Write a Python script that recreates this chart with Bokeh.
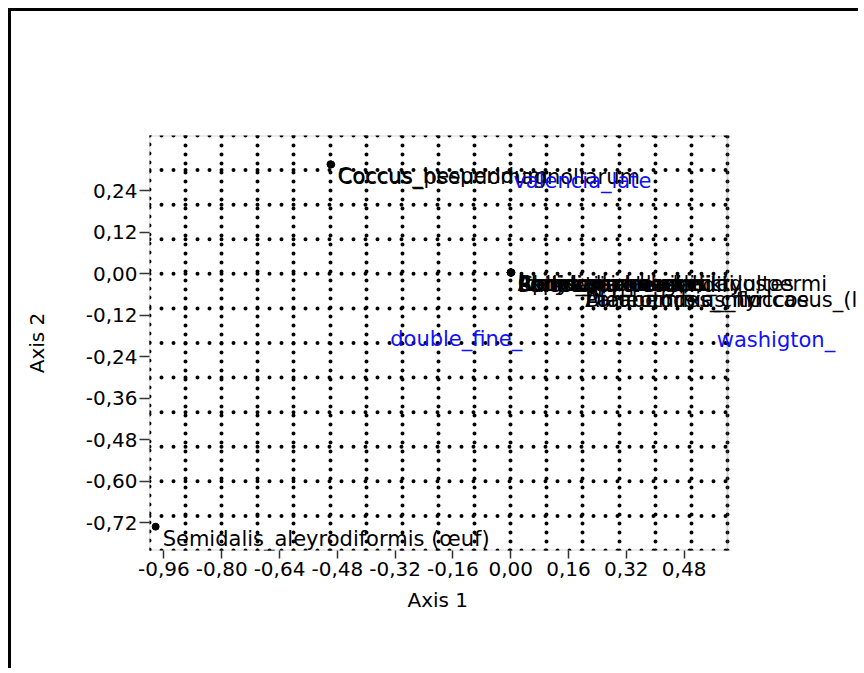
from bokeh.plotting import figure
from bokeh.models import ColumnDataSource, Label, FixedTicker, Span, BoxAnnotation, Title
from bokeh.embed import file_html
from bokeh.resources import INLINE

# ---- data ----
row_names = [
    "Coccus_hesperidum", "Coccus_pseudomagnoliarum",
    "Aphis_spiraecola", "Aonidiella_aurantii", "Planococcus_citri",
    "Parlatoria_pergandii", "Lepidosaphes_beckii", "Icerya_purchasi",
    "Saissetia_oleae", "Chrysomphalus_dictyospermi", "Rodolia_cardinalis_adultes",
    "Dialeurodes_citri", "Parabemisia_myricae", "Aleurothrixus_floccosus_(larve)",
    "Semidalis_aleyrodiformis (œuf)",
]
row_x = [-0.499, -0.497,
         0.0, 0.0, 0.001, 0.0, 0.002, 0.0, 0.001, 0.0, 0.0,
         0.186, 0.188, 0.186,
         -0.983]
row_y = [0.317, 0.316,
         0.004, 0.004, 0.004, 0.003, 0.004, 0.004, 0.003, 0.004, 0.004,
         -0.040, -0.040, -0.041,
         -0.731]

col_names = ["valencia_late", "double_fine_", "washigton_"]
col_x = [-0.012, -0.353, 0.551]
col_y = [0.302, -0.153, -0.156]

x_ticks = [-0.96, -0.80, -0.64, -0.48, -0.32, -0.16, 0.00, 0.16, 0.32, 0.48]
x_tick_labels = ["-0,96", "-0,80", "-0,64", "-0,48", "-0,32", "-0,16", "0,00", "0,16", "0,32", "0,48"]
y_ticks = [0.24, 0.12, 0.00, -0.12, -0.24, -0.36, -0.48, -0.60, -0.72]
y_tick_labels = ["0,24", "0,12", "0,00", "-0,12", "-0,24", "-0,36", "-0,48", "-0,60", "-0,72"]

grid_x = [-1.0, -0.9, -0.8, -0.7, -0.6, -0.5, -0.4, -0.3, -0.2, -0.1, 0.0, 0.1, 0.2, 0.3, 0.4, 0.5, 0.6]
grid_y = [-0.8, -0.7, -0.6, -0.5, -0.4, -0.3, -0.2, -0.1, 0.0, 0.1, 0.2, 0.3, 0.4]

FONT = "DejaVu Sans"

# plotting box spans grid_x[0]..grid_x[-1]; the canvas continues to the right
# (empty) so that long point labels are not cut at the box edge
X_VIEW_END = 0.971

p = figure(width=850, height=660, x_range=(grid_x[0], X_VIEW_END), y_range=(grid_y[0], grid_y[-1]),
           output_backend="svg", toolbar_location=None,
           min_border_left=138, min_border_right=0, min_border_top=124, min_border_bottom=121)
p.margin = (8, 0, 0, 8)
p.styles = {"border-top": "3px solid black", "border-left": "3px solid black"}

p.background_fill_color = "white"
p.border_fill_color = "white"
p.outline_line_color = None

# dotted grid: vertical lines via the grid, horizontal via segments limited to the box
p.xgrid.ticker = FixedTicker(ticks=grid_x)
p.xgrid.grid_line_color = "black"
p.xgrid.grid_line_width = 4
p.xgrid.grid_line_dash = "0 9"
p.xgrid.grid_line_cap = "round"
p.ygrid.grid_line_color = None

p.add_layout(Span(location=grid_x[0], dimension="height", line_color="black", line_width=4,
                  line_dash="0 9", line_cap="round"))

hsrc = ColumnDataSource(dict(x0=[grid_x[0]] * len(grid_y), x1=[grid_x[-1]] * len(grid_y),
                             y=grid_y))
p.segment(x0="x0", x1="x1", y0="y", y1="y", source=hsrc, line_color="black", line_width=4,
          line_dash="0 12", line_cap="round")

# box outline
p.add_layout(BoxAnnotation(left=grid_x[0], right=grid_x[-1], bottom=grid_y[0], top=grid_y[-1],
                           fill_alpha=0, line_color="#7a7a7a", line_width=2, level="underlay"))

# axes
p.xaxis.ticker = FixedTicker(ticks=x_ticks)
p.xaxis.major_label_overrides = dict(zip(x_ticks, x_tick_labels))
p.yaxis.ticker = FixedTicker(ticks=y_ticks)
p.yaxis.major_label_overrides = dict(zip(y_ticks, y_tick_labels))
for ax in (p.xaxis, p.yaxis):
    ax.axis_line_color = None
    ax.minor_tick_line_color = None
    ax.major_tick_in = 0
    ax.major_tick_line_color = "#333333"
    ax.major_tick_line_width = 1.5
    ax.major_label_text_font = FONT
    ax.major_label_text_font_size = "20px"
    ax.major_label_text_color = "black"
    ax.axis_label_text_font = FONT
    ax.axis_label_text_font_size = "20px"
    ax.axis_label_text_font_style = "normal"
    ax.axis_label_text_color = "black"
p.xaxis.major_tick_out = 8
p.yaxis.major_tick_out = 10
p.xaxis.major_label_standoff = 3
p.yaxis.major_label_standoff = 2
p.yaxis.axis_label = "Axis 2"
p.yaxis.axis_label_standoff = 34

# x axis title, centred under the box (not under the wider canvas)
p.add_layout(Title(text="Axis 1", align="left", offset=258, standoff=14,
                   text_font=FONT, text_font_size="20px", text_font_style="normal",
                   text_color="black"), "below")

rows = ColumnDataSource(dict(x=row_x, y=row_y, name=row_names))
p.scatter("x", "y", source=rows, size=7, color="black")

for nx, ny, nm in zip(row_x, row_y, row_names):
    p.add_layout(Label(x=nx, y=ny, text=nm, x_offset=7, y_offset=0,
                       text_baseline="top", text_font=FONT, text_font_size="21px",
                       text_color="black"))
for nx, ny, nm in zip(col_x, col_y, col_names):
    p.add_layout(Label(x=nx, y=ny, text=nm, x_offset=7, y_offset=0,
                       text_baseline="top", text_font=FONT, text_font_size="21px",
                       text_color="#1010ff"))

open("out.html", "w").write(file_html(p, INLINE))
